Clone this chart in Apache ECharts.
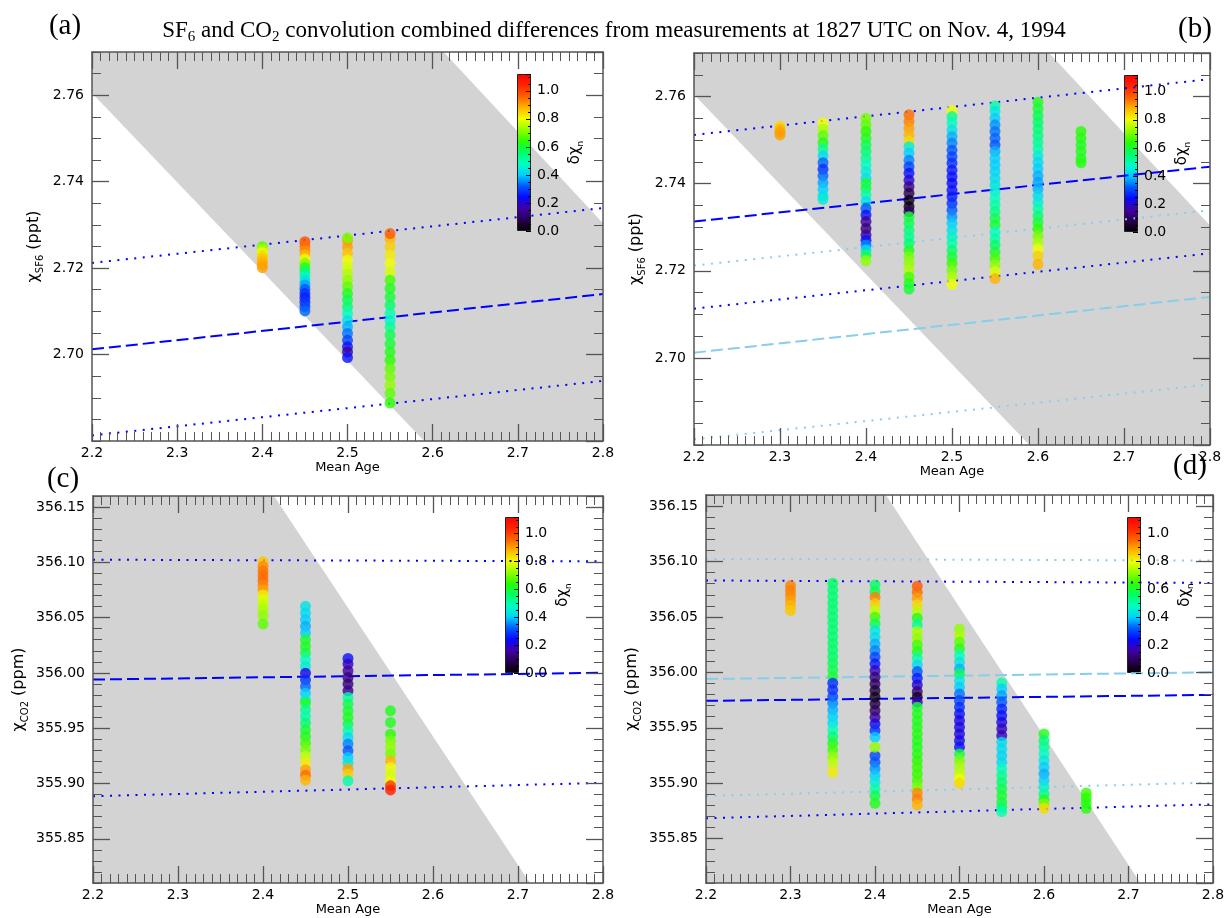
<!DOCTYPE html>
<html>
<head>
<meta charset="utf-8">
<script src="https://cdn.jsdelivr.net/npm/echarts@6/dist/echarts.min.js"></script>
<style>
html, body { margin: 0; padding: 0; background: #fff; }
#chart { width: 1228px; height: 918px; }
</style>
</head>
<body>
<div id="chart"></div>
<script>
// colour table for delta chi_n, evenly spaced from 0 to 1.12
var dchiMax = 1.12;
var dchiColors = ['#000000', '#28004c', '#4000a8', '#0808ff', '#0058ff', '#00d0ff', '#00ffc0', '#00ff68',
                  '#28ff00', '#90ff00', '#f0ff00', '#ffb400', '#ff6000', '#ff2400', '#ff0000'];

// shaded regions (mean age, mixing ratio)
var sf6Band = [[2.2, 2.77], [2.613, 2.77], [2.8, 2.7304], [2.8, 2.68], [2.590, 2.68], [2.2, 2.7605]];
var co2Band = [[2.2, 356.16], [2.413, 356.16], [2.714, 355.81], [2.2, 355.81]];

// measurement +/- lines, SF6 only (light) and combined (blue)
var sf6UpperOld = [[2.2, 2.7212], [2.8, 2.7339]];
var sf6MidOld   = [[2.2, 2.7012], [2.8, 2.7140]];
var sf6LowerOld = [[2.2, 2.6813], [2.8, 2.6939]];
var sf6UpperNew = [[2.2, 2.7512], [2.8, 2.7640]];
var sf6MidNew   = [[2.2, 2.7313], [2.8, 2.7439]];
var sf6LowerNew = [[2.2, 2.7113], [2.8, 2.7240]];
var co2UpperOld = [[2.2, 356.1024], [2.8, 356.1009]];
var co2MidOld   = [[2.2, 355.9940], [2.8, 356.0001]];
var co2LowerOld = [[2.2, 355.8885], [2.8, 355.9006]];
var co2UpperNew = [[2.2, 356.0829], [2.8, 356.0807]];
var co2MidNew   = [[2.2, 355.9743], [2.8, 355.9797]];
var co2LowerNew = [[2.2, 355.8684], [2.8, 355.8810]];

// columns: [mean age, [[chi, dchi_n], ...]]
var colsA = [
  [2.40, [[2.7250,0.68],[2.7243,0.75],[2.7236,0.80],[2.7229,0.84],[2.7222,0.86],[2.7215,0.88],[2.7208,0.89],[2.7201,0.90]]],
  [2.45, [[2.7261,0.98],[2.7251,0.95],[2.7241,0.92],[2.7231,0.88],[2.7221,0.80],[2.7211,0.70],[2.7201,0.62],[2.7191,0.55],[2.7181,0.47],
          [2.7171,0.42],[2.7161,0.37],[2.7151,0.32],[2.7141,0.28],[2.7131,0.26],[2.7121,0.28],[2.7111,0.30],[2.7101,0.33]]],
  [2.50, [[2.7264,0.90],[2.7249,0.90],[2.7234,0.86],[2.7218,0.80],[2.7203,0.78],[2.7187,0.75],[2.7172,0.72],[2.7157,0.68],[2.7141,0.62],
          [2.7126,0.58],[2.7110,0.55],[2.7095,0.48],[2.7079,0.43],[2.7064,0.38],[2.7049,0.34],[2.7033,0.30],[2.7018,0.25],[2.7006,0.15],
          [2.6993,0.25],[2.7270,0.70]]],
  [2.55, [[2.7268,0.88],[2.7249,0.85],[2.7230,0.82],[2.7211,0.80],[2.7191,0.78],[2.7172,0.66],[2.7153,0.62],[2.7133,0.60],[2.7114,0.56],
          [2.7095,0.50],[2.7079,0.46],[2.7064,0.52],[2.7045,0.58],[2.7025,0.60],[2.7006,0.62],[2.6987,0.64],[2.6968,0.68],[2.6949,0.70],
          [2.6929,0.72],[2.6910,0.68],[2.6888,0.64],[2.7280,0.97]]]
];

var colsB = [
  [2.30, [[2.7532,0.84],[2.7525,0.88],[2.7518,0.90],[2.7512,0.90]]],
  [2.35, [[2.7540,0.80],[2.7525,0.74],[2.7510,0.68],[2.7494,0.62],[2.7479,0.52],[2.7464,0.42],[2.7448,0.33],[2.7433,0.28],[2.7418,0.33],
          [2.7402,0.37],[2.7387,0.40],[2.7372,0.43],[2.7364,0.45]]],
  [2.40, [[2.7550,0.70],[2.7535,0.68],[2.7520,0.64],[2.7504,0.62],[2.7489,0.58],[2.7474,0.55],[2.7458,0.52],[2.7443,0.48],[2.7428,0.45],
          [2.7412,0.43],[2.7401,0.60],[2.7389,0.58],[2.7374,0.50],[2.7359,0.43],[2.7343,0.32],[2.7328,0.25],[2.7313,0.15],[2.7297,0.12],
          [2.7282,0.15],[2.7270,0.25],[2.7259,0.35],[2.7248,0.42],[2.7236,0.58],[2.7223,0.72]]],
  [2.45, [[2.7558,0.95],[2.7543,0.93],[2.7527,0.90],[2.7512,0.88],[2.7497,0.84],[2.7485,0.45],[2.7470,0.40],[2.7454,0.35],[2.7439,0.30],
          [2.7424,0.25],[2.7408,0.20],[2.7393,0.14],[2.7378,0.08],[2.7362,0.03],[2.7347,0.02],[2.7336,0.10],[2.7324,0.60],[2.7309,0.58],
          [2.7293,0.55],[2.7278,0.52],[2.7263,0.55],[2.7247,0.62],[2.7232,0.70],[2.7217,0.72],[2.7201,0.74],[2.7186,0.66],[2.7171,0.62],
          [2.7158,0.60]]],
  [2.50, [[2.7568,0.80],[2.7554,0.52],[2.7539,0.48],[2.7523,0.43],[2.7508,0.38],[2.7493,0.35],[2.7477,0.32],[2.7462,0.30],[2.7447,0.28],
          [2.7431,0.26],[2.7416,0.25],[2.7401,0.24],[2.7385,0.25],[2.7370,0.26],[2.7355,0.28],[2.7339,0.32],[2.7324,0.36],[2.7309,0.40],
          [2.7293,0.43],[2.7278,0.46],[2.7263,0.50],[2.7247,0.55],[2.7232,0.60],[2.7217,0.65],[2.7201,0.70],[2.7186,0.74],[2.7169,0.80]]],
  [2.55, [[2.7579,0.50],[2.7566,0.44],[2.7550,0.40],[2.7535,0.36],[2.7520,0.34],[2.7504,0.33],[2.7489,0.32],[2.7474,0.38],[2.7458,0.40],
          [2.7443,0.40],[2.7428,0.41],[2.7412,0.42],[2.7397,0.43],[2.7382,0.45],[2.7366,0.48],[2.7351,0.50],[2.7336,0.53],[2.7320,0.58],
          [2.7305,0.60],[2.7289,0.48],[2.7274,0.50],[2.7259,0.56],[2.7243,0.60],[2.7228,0.66],[2.7213,0.72],[2.7198,0.78],[2.7182,0.88]]],
  [2.60, [[2.7587,0.62],[2.7572,0.60],[2.7556,0.58],[2.7541,0.56],[2.7526,0.55],[2.7510,0.54],[2.7495,0.52],[2.7480,0.50],[2.7464,0.45],
          [2.7449,0.42],[2.7434,0.40],[2.7418,0.38],[2.7403,0.37],[2.7388,0.38],[2.7372,0.42],[2.7357,0.45],[2.7342,0.50],[2.7326,0.55],
          [2.7311,0.60],[2.7296,0.64],[2.7280,0.70],[2.7265,0.74],[2.7250,0.80],[2.7234,0.85],[2.7215,0.88]]],
  [2.65, [[2.7520,0.64],[2.7504,0.63],[2.7489,0.62],[2.7474,0.62],[2.7458,0.62],[2.7448,0.63]]]
];

var colsC = [
  [2.40, [[356.1006,0.86],[356.0964,0.92],[356.0922,0.94],[356.0879,0.95],[356.0837,0.95],[356.0795,0.93],[356.0753,0.90],[356.0704,0.82],
          [356.0662,0.78],[356.0620,0.76],[356.0572,0.74],[356.0517,0.72],[356.0442,0.68]]],
  [2.45, [[356.0602,0.43],[356.0541,0.42],[356.0481,0.40],[356.0421,0.38],[356.0360,0.40],[356.0300,0.60],[356.0240,0.62],[356.0179,0.58],
          [356.0119,0.48],[356.0059,0.45],[355.9998,0.22],[355.9938,0.28],[355.9878,0.33],[355.9817,0.40],[355.9757,0.45],[355.9727,0.62],
          [355.9666,0.52],[355.9606,0.50],[355.9546,0.55],[355.9485,0.60],[355.9425,0.62],[355.9365,0.66],[355.9304,0.70],[355.9244,0.76],
          [355.9184,0.82],[355.9123,0.90],[355.9075,0.95],[355.9030,0.88]]],
  [2.50, [[356.0131,0.25],[356.0080,0.18],[356.0019,0.15],[355.9959,0.13],[355.9899,0.12],[355.9838,0.14],[355.9778,0.50],[355.9718,0.58],
          [355.9657,0.60],[355.9597,0.62],[355.9537,0.58],[355.9476,0.50],[355.9416,0.42],[355.9356,0.35],[355.9295,0.32],[355.9235,0.40],
          [355.9184,0.44],[355.9135,0.90],[355.9084,0.85],[355.9024,0.50]]],
  [2.55, [[355.9657,0.62],[355.9552,0.62],[355.9446,0.64],[355.9386,0.70],[355.9326,0.72],[355.9265,0.70],[355.9205,0.88],[355.9144,0.80],
          [355.9084,0.78],[355.9024,0.80],[355.8979,1.02],[355.8942,1.05]]]
];

var colsD = [
  [2.30, [[356.0783,0.93],[356.0738,0.93],[356.0693,0.92],[356.0648,0.90],[356.0603,0.88],[356.0558,0.86]]],
  [2.35, [[356.0804,0.56],[356.0744,0.55],[356.0684,0.55],[356.0624,0.55],[356.0564,0.55],[356.0504,0.55],[356.0444,0.55],[356.0383,0.55],
          [356.0323,0.55],[356.0263,0.56],[356.0203,0.56],[356.0143,0.56],[356.0083,0.57],[356.0022,0.58],[355.9962,0.60],[355.9902,0.28],
          [355.9842,0.28],[355.9782,0.30],[355.9722,0.35],[355.9661,0.38],[355.9601,0.40],[355.9541,0.43],[355.9481,0.48],[355.9421,0.55],
          [355.9361,0.62],[355.9301,0.66],[355.9240,0.72],[355.9180,0.76],[355.9099,0.82]]],
  [2.40, [[356.0789,0.56],[356.0729,0.58],[356.0678,0.93],[356.0618,0.85],[356.0558,0.76],[356.0498,0.66],[356.0437,0.58],[356.0377,0.44],
          [356.0317,0.42],[356.0257,0.38],[356.0197,0.35],[356.0137,0.30],[356.0077,0.26],[356.0016,0.18],[355.9956,0.12],[355.9896,0.10],
          [355.9836,0.06],[355.9776,0.03],[355.9716,0.06],[355.9655,0.10],[355.9595,0.15],[355.9535,0.22],[355.9475,0.28],[355.9415,0.40],
          [355.9249,0.30],[355.9189,0.32],[355.9129,0.36],[355.9069,0.40],[355.9009,0.45],[355.8949,0.50],[355.8888,0.58],[355.8819,0.62],
          [355.9325,0.72]]],
  [2.45, [[356.0777,0.97],[356.0723,0.95],[356.0669,0.90],[356.0609,0.84],[356.0549,0.75],[356.0489,0.62],[356.0428,0.52],[356.0368,0.74],
          [356.0308,0.72],[356.0248,0.66],[356.0188,0.62],[356.0128,0.50],[356.0067,0.42],[356.0007,0.32],[355.9947,0.26],[355.9887,0.20],
          [355.9827,0.12],[355.9776,0.04],[355.9731,0.18],[355.9686,0.60],[355.9625,0.62],[355.9565,0.62],[355.9505,0.62],[355.9445,0.63],
          [355.9385,0.62],[355.9325,0.62],[355.9264,0.63],[355.9204,0.64],[355.9144,0.65],[355.9084,0.65],[355.9024,0.66],[355.8964,0.70],
          [355.8912,0.92],[355.8858,0.93],[355.8804,0.88]]],
  [2.50, [[356.0392,0.72],[356.0332,0.74],[356.0272,0.68],[356.0212,0.62],[356.0152,0.48],[356.0092,0.44],[356.0031,0.38],[355.9986,0.58],
          [355.9926,0.44],[355.9866,0.40],[355.9806,0.34],[355.9746,0.30],[355.9686,0.28],[355.9625,0.25],[355.9565,0.22],[355.9505,0.22],
          [355.9445,0.21],[355.9385,0.22],[355.9325,0.25],[355.9264,0.60],[355.9204,0.70],[355.9144,0.74],[355.9084,0.76],[355.9039,0.80],
          [355.8999,0.84]]],
  [2.55, [[355.9905,0.50],[355.9851,0.40],[355.9791,0.37],[355.9731,0.32],[355.9670,0.27],[355.9610,0.25],[355.9550,0.22],[355.9490,0.18],
          [355.9430,0.18],[355.9370,0.42],[355.9310,0.42],[355.9249,0.41],[355.9189,0.42],[355.9129,0.48],[355.9069,0.52],[355.9009,0.55],
          [355.8949,0.58],[355.8888,0.60],[355.8828,0.60],[355.8783,0.55],[355.8744,0.50]]],
  [2.60, [[355.9445,0.62],[355.9385,0.55],[355.9325,0.52],[355.9264,0.48],[355.9204,0.44],[355.9144,0.40],[355.9084,0.38],[355.9024,0.40],
          [355.8964,0.46],[355.8903,0.52],[355.8852,0.62],[355.8813,0.70],[355.8774,0.84]]],
  [2.65, [[355.8912,0.65],[355.8867,0.64],[355.8822,0.63],[355.8774,0.63]]]
];

var FONT = 'DejaVu Sans';
var SERIF = 'Liberation Serif';
var AX = '#555';
var LIGHT = '#87ceeb';
var BLUE = '#0000ff';
var DOT = [2, 6.5];
var DASH = [12, 5];

var chart = echarts.init(document.getElementById('chart'));
var option = {
    animation: false,
    backgroundColor: '#fff',
    title: [{
        text: '{n|SF}{s|6}{n| and CO}{s|2}{n| convolution combined differences from measurements at 1827 UTC on Nov. 4, 1994}',
        left: 'center',
        top: 11,
        textStyle: {
            fontWeight: 'normal',
            rich: {
                n: {fontFamily: SERIF, fontSize: 23, fontWeight: 'normal', color: '#000', lineHeight: 29, verticalAlign: 'middle'},
                s: {fontFamily: SERIF, fontSize: 15, fontWeight: 'normal', color: '#000', lineHeight: 16, verticalAlign: 'bottom'}
            }
        }
    }],
    grid: [], xAxis: [], yAxis: [], series: [],
    visualMap: [],
    graphic: []
};

var scatterIdx = [];

function flatten(cols) {
    var out = [];
    cols.forEach(function (c) {
        c[1].forEach(function (p) { out.push([c[0], p[0], p[1]]); });
    });
    return out;
}

function tickStyle(len, w) {
    return {show: true, inside: true, length: len, lineStyle: {color: AX, width: w}};
}

function addPanel(p) {
    var g = option.grid.length;
    option.grid.push({left: p.left, top: p.top, width: p.width, height: p.height});

    var xi = option.xAxis.length;
    ['bottom', 'top'].forEach(function (pos) {
        option.xAxis.push({
            type: 'value', gridIndex: g, position: pos, min: 2.2, max: 2.8, interval: 0.1, z: 5,
            axisLine: {show: true, onZero: false, lineStyle: {color: AX, width: 1.5}},
            axisTick: tickStyle(17, 1.3),
            minorTick: {show: true, splitNumber: 10, length: 9, lineStyle: {color: AX, width: 1}},
            splitLine: {show: false}, minorSplitLine: {show: false},
            axisLabel: {show: pos === 'bottom', fontFamily: FONT, fontSize: 14, color: '#000', margin: 5,
                        formatter: function (v) { return v.toFixed(1); }},
            name: pos === 'bottom' ? 'Mean Age' : '',
            nameLocation: 'middle', nameGap: 20,
            nameTextStyle: {fontFamily: FONT, fontSize: 13, color: '#000'}
        });
    });

    var yi = option.yAxis.length;
    ['left', 'right'].forEach(function (pos) {
        var major = {
            type: 'value', gridIndex: g, position: pos, min: p.ymin, max: p.ymax, z: 5,
            axisLine: {show: true, onZero: false, lineStyle: {color: AX, width: 1.5}},
            axisTick: tickStyle(17, 1.3),
            splitLine: {show: false},
            axisLabel: {show: pos === 'left', fontFamily: FONT, fontSize: 14, color: '#000', margin: 8,
                        showMinLabel: false, showMaxLabel: false,
                        formatter: function (v) { return v.toFixed(2); }}
        };
        if (p.useInterval) {
            major.interval = p.major;
        } else {
            major.minInterval = p.major;
            major.maxInterval = p.major;
            major.splitNumber = 7;
        }
        if (pos === 'left') {
            major.name = p.yName;
            major.nameLocation = 'middle';
            major.nameGap = p.nameGap;
            major.nameRotate = 90;
            major.nameTextStyle = {
                rich: {
                    c: {fontFamily: FONT, fontSize: 16, color: '#000', lineHeight: 22, verticalAlign: 'middle'},
                    s: {fontFamily: FONT, fontSize: 10, color: '#000', lineHeight: 13, verticalAlign: 'bottom'}
                }
            };
        }
        option.yAxis.push(major);
        option.yAxis.push({
            type: 'value', gridIndex: g, position: pos, min: p.ymin, max: p.ymax, interval: p.minor, z: 5,
            axisLine: {show: false}, axisTick: tickStyle(9, 1),
            splitLine: {show: false}, axisLabel: {show: false}
        });
    });

    // shaded region
    option.series.push({
        type: 'custom', xAxisIndex: xi, yAxisIndex: yi, silent: true, z: 1,
        data: [p.band[0]],
        renderItem: function (params, api) {
            var pts = p.band.map(function (v) { return api.coord(v); });
            return {type: 'polygon', shape: {points: pts}, style: {fill: '#d3d3d3'}};
        }
    });

    p.lines.forEach(function (ln) {
        option.series.push({
            type: 'line', xAxisIndex: xi, yAxisIndex: yi, data: ln[0], symbol: 'none', silent: true, z: 3,
            lineStyle: {color: ln[1], width: 2, type: ln[2]}
        });
    });

    scatterIdx.push(option.series.length);
    option.series.push({
        type: 'scatter', xAxisIndex: xi, yAxisIndex: yi, data: flatten(p.cols),
        symbolSize: 11, z: 4, silent: true
    });

    // colour bar
    var cg = option.grid.length;
    option.grid.push({left: p.cb[0], top: p.cb[1], width: 14, height: p.cb[2]});
    var cx = option.xAxis.length;
    option.xAxis.push({type: 'category', gridIndex: cg, data: ['c'], show: false});
    var cy = option.yAxis.length;
    option.yAxis.push({
        type: 'value', gridIndex: cg, position: 'right', min: 0, max: dchiMax, interval: 0.2, z: 5,
        axisLine: {show: false},
        axisTick: {show: true, inside: true, length: 5, lineStyle: {color: '#000', width: 1}},
        minorTick: {show: true, splitNumber: 4, length: 3, lineStyle: {color: '#000', width: 1}},
        splitLine: {show: false}, minorSplitLine: {show: false},
        axisLabel: {fontFamily: FONT, fontSize: 14, color: '#000', margin: 6, showMaxLabel: false,
                    formatter: function (v) { return v.toFixed(1); }},
        name: '{d|δχ}{s|n}', nameLocation: 'middle', nameRotate: 90, nameGap: 34,
        nameTextStyle: {
            rich: {
                d: {fontFamily: FONT, fontSize: 15, color: '#000', lineHeight: 20, verticalAlign: 'middle'},
                s: {fontFamily: FONT, fontSize: 9, color: '#000', lineHeight: 12, verticalAlign: 'bottom'}
            }
        }
    });
    var stops = dchiColors.map(function (c, i) { return {offset: i / (dchiColors.length - 1), color: c}; });
    option.series.push({
        type: 'bar', xAxisIndex: cx, yAxisIndex: cy, data: [dchiMax], barWidth: '100%', silent: true, z: 3,
        itemStyle: {color: new echarts.graphic.LinearGradient(0, 1, 0, 0, stops), borderColor: '#222', borderWidth: 1}
    });

    option.graphic.push({
        type: 'text', x: p.label[0], y: p.label[1], z: 10,
        style: {text: p.label[2], font: '29px "' + SERIF + '"', fill: '#000', align: 'center', verticalAlign: 'middle'}
    });
}

var sf6Name = '{c|χ}{s|SF6}{c| (ppt)}';
var co2Name = '{c|χ}{s|CO2}{c| (ppm)}';

addPanel({
    left: 92, top: 52, width: 511, height: 389, ymin: 2.68, ymax: 2.77, major: 0.02, minor: 0.005, useInterval: true,
    yName: sf6Name, nameGap: 47, band: sf6Band, cols: colsA, cb: [517, 74, 157], label: [65, 26, '(a)'],
    lines: [[sf6UpperOld, BLUE, DOT], [sf6MidOld, BLUE, DASH], [sf6LowerOld, BLUE, DOT]]
});
addPanel({
    left: 694, top: 53, width: 516, height: 392, ymin: 2.68, ymax: 2.77, major: 0.02, minor: 0.005, useInterval: true,
    yName: sf6Name, nameGap: 47, band: sf6Band, cols: colsB, cb: [1124, 75, 157], label: [1195, 29, '(b)'],
    lines: [[sf6UpperOld, LIGHT, DOT], [sf6MidOld, LIGHT, DASH], [sf6LowerOld, LIGHT, DOT],
            [sf6UpperNew, BLUE, DOT], [sf6MidNew, BLUE, DASH], [sf6LowerNew, BLUE, DOT]]
});
addPanel({
    left: 93, top: 496, width: 510, height: 387, ymin: 355.81, ymax: 356.16, major: 0.05, minor: 0.01, useInterval: false,
    yName: co2Name, nameGap: 63, band: co2Band, cols: colsC, cb: [505, 517, 156], label: [63, 479, '(c)'],
    lines: [[co2UpperOld, BLUE, DOT], [co2MidOld, BLUE, DASH], [co2LowerOld, BLUE, DOT]]
});
addPanel({
    left: 706, top: 495, width: 507, height: 388, ymin: 355.81, ymax: 356.16, major: 0.05, minor: 0.01, useInterval: false,
    yName: co2Name, nameGap: 63, band: co2Band, cols: colsD, cb: [1127, 517, 156], label: [1190, 466, '(d)'],
    lines: [[co2UpperOld, LIGHT, DOT], [co2MidOld, LIGHT, DASH], [co2LowerOld, LIGHT, DOT],
            [co2UpperNew, BLUE, DOT], [co2MidNew, BLUE, DASH], [co2LowerNew, BLUE, DOT]]
});

option.visualMap.push({
    type: 'continuous', show: false, min: 0, max: dchiMax, dimension: 2,
    seriesIndex: scatterIdx, inRange: {color: dchiColors}
});

chart.setOption(option);
</script>
</body>
</html>
